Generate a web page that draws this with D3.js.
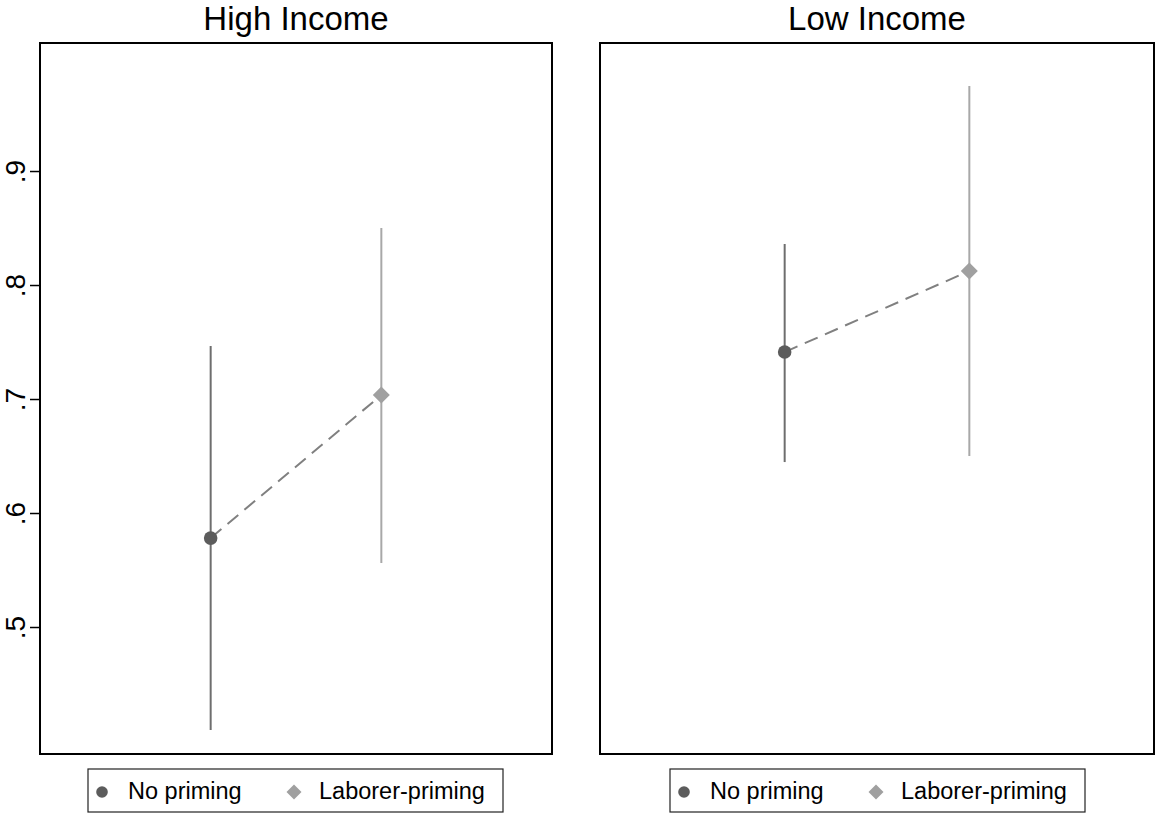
<!DOCTYPE html>
<html>
<head>
<meta charset="utf-8">
<script src="https://cdn.jsdelivr.net/npm/d3@7"></script>
<style>
  html, body { margin: 0; padding: 0; background: #fff; }
  svg { display: block; font-family: "Liberation Sans", Arial, Helvetica, sans-serif; }
</style>
</head>
<body>
<svg id="chart" width="1156" height="814"></svg>
<script>
// Panels (income groups)
const panels = ["High Income", "Low Income"];
// Treatment groups, plotted at positions 1 and 2
const groups = ["No priming", "Laborer-priming"];
const groupPos = [1, 2];
// Point estimates per panel: [No priming, Laborer-priming]
const estimates = [[0.578, 0.7035], [0.7412, 0.8123]];
// Confidence intervals (lower, upper) per panel
const ciLower = [[0.4096, 0.5561], [0.6447, 0.6500]];
const ciUpper = [[0.7465, 0.8500], [0.8360, 0.9746]];
// Y axis
const yTicks = [0.5, 0.6, 0.7, 0.8, 0.9];
const yTickLabels = [".5", ".6", ".7", ".8", ".9"];
const yDomain = [0.3886, 1.0123];
const xDomain = [0, 3];

const svg = d3.select("#chart");

const frames = [
  { left: 40, right: 552, top: 43, bottom: 754, axis: true, legendX: 88 },
  { left: 600, right: 1154, top: 43, bottom: 754, axis: false, legendX: 670 }
];

const markerFill = ["#5c5c5c", "#a0a0a0"];
const ciColor = ["#6e6e6e", "#a8a8a8"];

function drawDiamond(g, cx, cy, h, fill) {
  g.append("path")
    .attr("d", `M${cx},${cy - h}L${cx + h},${cy}L${cx},${cy + h}L${cx - h},${cy}Z`)
    .attr("fill", fill);
}

panels.forEach((name, p) => {
  const f = frames[p];
  const x = d3.scaleLinear().domain(xDomain).range([f.left, f.right]);
  const y = d3.scaleLinear().domain(yDomain).range([f.bottom, f.top]);
  const g = svg.append("g");

  // Title
  g.append("text")
    .attr("x", (f.left + f.right) / 2)
    .attr("y", 30)
    .attr("text-anchor", "middle")
    .attr("font-size", 33)
    .attr("fill", "#000")
    .text(name);

  // Y axis ticks and labels (left panel only)
  if (f.axis) {
    const ax = g.append("g")
      .attr("transform", `translate(${f.left},0)`)
      .call(d3.axisLeft(y).tickValues(yTicks).tickSize(10).tickSizeOuter(0)
        .tickFormat((d, i) => yTickLabels[i]));
    ax.select(".domain").remove();
    ax.selectAll(".tick line").attr("stroke", "#000").attr("stroke-width", 1.5);
    ax.selectAll(".tick text")
      .attr("font-size", 28)
      .attr("fill", "#000")
      .attr("font-family", "'Liberation Sans', Arial, sans-serif")
      .attr("x", 0).attr("dy", null).attr("y", 0)
      .attr("text-anchor", "middle")
      .attr("transform", "translate(-15,0) rotate(-90)");
  }

  // Confidence intervals
  groupPos.forEach((gp, k) => {
    g.append("line")
      .attr("x1", x(gp)).attr("x2", x(gp))
      .attr("y1", y(ciLower[p][k])).attr("y2", y(ciUpper[p][k]))
      .attr("stroke", ciColor[k]).attr("stroke-width", 2);
  });

  // Dashed connecting line
  g.append("path")
    .datum(groupPos.map((gp, k) => [gp, estimates[p][k]]))
    .attr("d", d3.line().x(d => x(d[0])).y(d => y(d[1])))
    .attr("fill", "none")
    .attr("stroke", "#808080")
    .attr("stroke-width", 2)
    .attr("stroke-dasharray", "14,8");

  // Markers
  g.append("circle")
    .attr("cx", x(groupPos[0])).attr("cy", y(estimates[p][0]))
    .attr("r", 6.8).attr("fill", markerFill[0]);
  drawDiamond(g, x(groupPos[1]), y(estimates[p][1]), 8.5, markerFill[1]);

  // Plot frame
  g.append("rect")
    .attr("x", f.left).attr("y", f.top)
    .attr("width", f.right - f.left).attr("height", f.bottom - f.top)
    .attr("fill", "none").attr("stroke", "#000").attr("stroke-width", 2);

  // Legend
  const lg = g.append("g").attr("transform", `translate(${f.legendX},769)`);
  lg.append("rect")
    .attr("x", 0).attr("y", 0).attr("width", 415).attr("height", 43)
    .attr("fill", "#fff").attr("stroke", "#222").attr("stroke-width", 1.2);
  lg.append("circle").attr("cx", 14).attr("cy", 23).attr("r", 5.8).attr("fill", markerFill[0]);
  lg.append("text").attr("x", 40).attr("y", 30).attr("font-size", 23.5).attr("fill", "#000").text(groups[0]);
  drawDiamond(lg, 206, 23, 7.5, markerFill[1]);
  lg.append("text").attr("x", 231).attr("y", 30).attr("font-size", 23.5).attr("fill", "#000").text(groups[1]);
});
</script>
</body>
</html>
